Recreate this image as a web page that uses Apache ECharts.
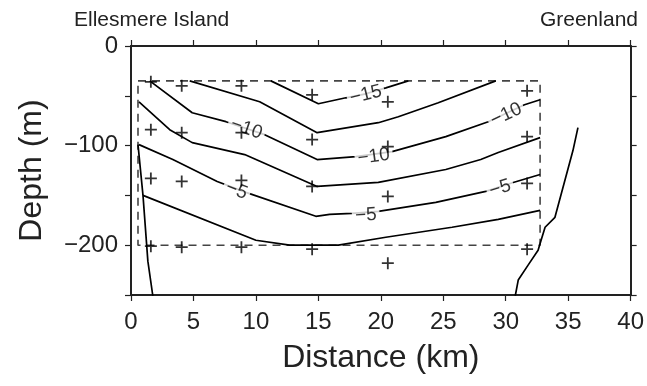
<!DOCTYPE html>
<html><head><meta charset="utf-8">
<script src="https://cdn.jsdelivr.net/npm/echarts@6/dist/echarts.min.js"></script>
<style>html,body{margin:0;padding:0;background:#fff}#c{width:647px;height:386px}</style>
</head><body><div id="c"></div>
<script>
// ---- data ----
const xTickValues = [0, 5, 10, 15, 20, 25, 30, 35, 40];
const yTickLabels = [0, -100, -200];

// contour lines (distance km, depth m)
const contour15  = [[11.2,-35],[15.0,-58],[17.2,-52],[18.8,-48],[20.4,-42],[22.2,-35]];
const contour125 = [[4.7,-35],[10.3,-56],[14.9,-87],[19.8,-77],[21.4,-71],[24.6,-57],[29.2,-35]];
const contour10  = [[1.5,-35],[4.9,-67],[7.6,-76],[10.7,-89],[14.9,-114],[18.0,-111],[20.9,-106],[25.2,-91],[28.6,-76],[31.5,-59],[32.75,-54]];
const contour75  = [[0.64,-56],[3.1,-84],[4.9,-97],[9.1,-109],[14.9,-141],[19.8,-137],[25.2,-124],[28.0,-114],[29.4,-107],[32.75,-92]];
const contour5   = [[0.64,-99],[3.35,-114],[6.9,-136],[9.2,-147],[14.8,-171],[15.9,-169],[17.7,-168],[19.8,-166],[24.4,-157],[28.4,-146],[30.6,-137],[32.75,-129]];
const contour25  = [[0.96,-150],[10.0,-195],[12.7,-200],[16.6,-200],[20.4,-192],[25.7,-182],[29.4,-174],[32.75,-165]];

// contour labels
const labelX     = [18.8, 9.24, 19.44, 30.04, 8.45, 18.8, 29.56];
const labelDepth = [-49, -83, -111, -69, -145, -170, -143];
const labelText  = ['\u221215','\u221210','\u221210','\u221210','\u22125','\u22125','\u22125'];
const labelAngles = [14, -19, 8, 25, -21, 4, 18];

// station markers
const stationX = [1.59, 4.06, 8.84, 14.5, 20.56, 31.71];
const stationDepths = [
  [-36, -84, -133, -201],
  [-40, -87, -136, -202],
  [-40, -87, -135, -202],
  [-49, -94, -141, -204],
  [-56, -101, -151, -218],
  [-45, -91, -138, -204]
];

// dashed section box
const boxX = [0.56, 32.75];
const boxDepth = [-35, -200];

// bathymetry
const seafloorWest = [[0.56,-99],[0.96,-150],[1.35,-216],[1.75,-251]];
const seafloorEast = [[35.78,-82],[35.38,-105],[33.94,-172],[33.15,-182],[32.83,-195],[32.59,-205],[31.79,-220],[31.0,-235],[30.76,-251]];

// ---- chart ----
const FONT = 'Liberation Sans, Arial, Helvetica, sans-serif';
const chart = echarts.init(document.getElementById('c'), null, {renderer: 'canvas'});

function lineSeries(data, extra) {
  return Object.assign({
    type: 'line', data: data, showSymbol: false, symbol: 'none', silent: true,
    xAxisIndex: 0, yAxisIndex: 0, z: 3,
    lineStyle: {color: '#000', width: 1.7}, animation: false
  }, extra || {});
}

const stations = [];
stationX.forEach((x, i) => stationDepths[i].forEach(d => stations.push([x, d])));

const boxData = [
  [boxX[0], boxDepth[0]], [boxX[1], boxDepth[0]],
  [boxX[1], boxDepth[1]], [boxX[0], boxDepth[1]], [boxX[0], boxDepth[0]]
];

const labelData = labelX.map((x, i) => ({
  value: [x, labelDepth[i]],
  label: {rotate: labelAngles[i], formatter: labelText[i]}
}));

const axisLine = {show: true, onZero: false, lineStyle: {color: '#222', width: 2}};
const axisTick = {show: true, inside: false, length: 6, lineStyle: {color: '#222', width: 1.2}};

chart.setOption({
  animation: false,
  backgroundColor: '#fff',
  title: [
    {text: 'Ellesmere Island', left: 69, top: 5, textStyle: {fontFamily: FONT, fontSize: 21, fontWeight: 'normal', color: '#222'}},
    {text: 'Greenland', right: 4, top: 5, textStyle: {fontFamily: FONT, fontSize: 21, fontWeight: 'normal', color: '#222'}}
  ],
  grid: {left: 131, top: 46, right: 14, bottom: 91, containLabel: false},
  xAxis: [
    {type: 'value', position: 'bottom', min: 0, max: 40, interval: 5,
     axisLine: axisLine, axisTick: axisTick, splitLine: {show: false},
     axisLabel: {fontFamily: FONT, fontSize: 24, color: '#222', margin: 15,
       formatter: v => xTickValues.includes(v) ? String(v) : ''},
     name: 'Distance (km)', nameLocation: 'middle', nameGap: 47,
     nameTextStyle: {fontFamily: FONT, fontSize: 32, color: '#222'}},
    {type: 'value', position: 'top', min: 0, max: 40, interval: 5,
     axisLine: axisLine, axisTick: axisTick, splitLine: {show: false}, axisLabel: {show: false}}
  ],
  yAxis: [
    {type: 'value', position: 'left', min: -250, max: 0, interval: 50,
     axisLine: axisLine, axisTick: axisTick, splitLine: {show: false},
     axisLabel: {fontFamily: FONT, fontSize: 24, color: '#222', margin: 13,
       formatter: v => yTickLabels.includes(v) ? (v < 0 ? '\u2212' + Math.abs(v) : String(v)) : ''},
     name: 'Depth (m)', nameLocation: 'middle', nameGap: 83, nameRotate: 90,
     nameTextStyle: {fontFamily: FONT, fontSize: 32, color: '#222'}},
    {type: 'value', position: 'right', min: -250, max: 0, interval: 50,
     axisLine: axisLine, axisTick: axisTick, splitLine: {show: false}, axisLabel: {show: false}}
  ],
  series: [
    lineSeries(boxData, {lineStyle: {color: '#444', width: 1.6, type: [8, 6]}, z: 2}),
    lineSeries(contour15),
    lineSeries(contour125),
    lineSeries(contour10),
    lineSeries(contour75),
    lineSeries(contour5),
    lineSeries(contour25),
    lineSeries(seafloorWest, {lineStyle: {color: '#000', width: 1.7}}),
    lineSeries(seafloorEast, {lineStyle: {color: '#000', width: 1.7}}),
    {type: 'scatter', data: labelData, symbolSize: 0, silent: true, z: 5, animation: false,
     label: {show: true, position: 'inside', fontFamily: FONT, fontSize: 19, color: '#000',
       backgroundColor: '#fff', padding: [0, 3]}},
    {type: 'scatter', data: stations, silent: true, z: 6, animation: false,
     symbol: 'path://M4.25,0h1.5v4.25h4.25v1.5h-4.25v4.25h-1.5v-4.25h-4.25v-1.5h4.25z',
     symbolSize: 12, itemStyle: {color: '#000'}}
  ]
});
</script>
</body></html>
